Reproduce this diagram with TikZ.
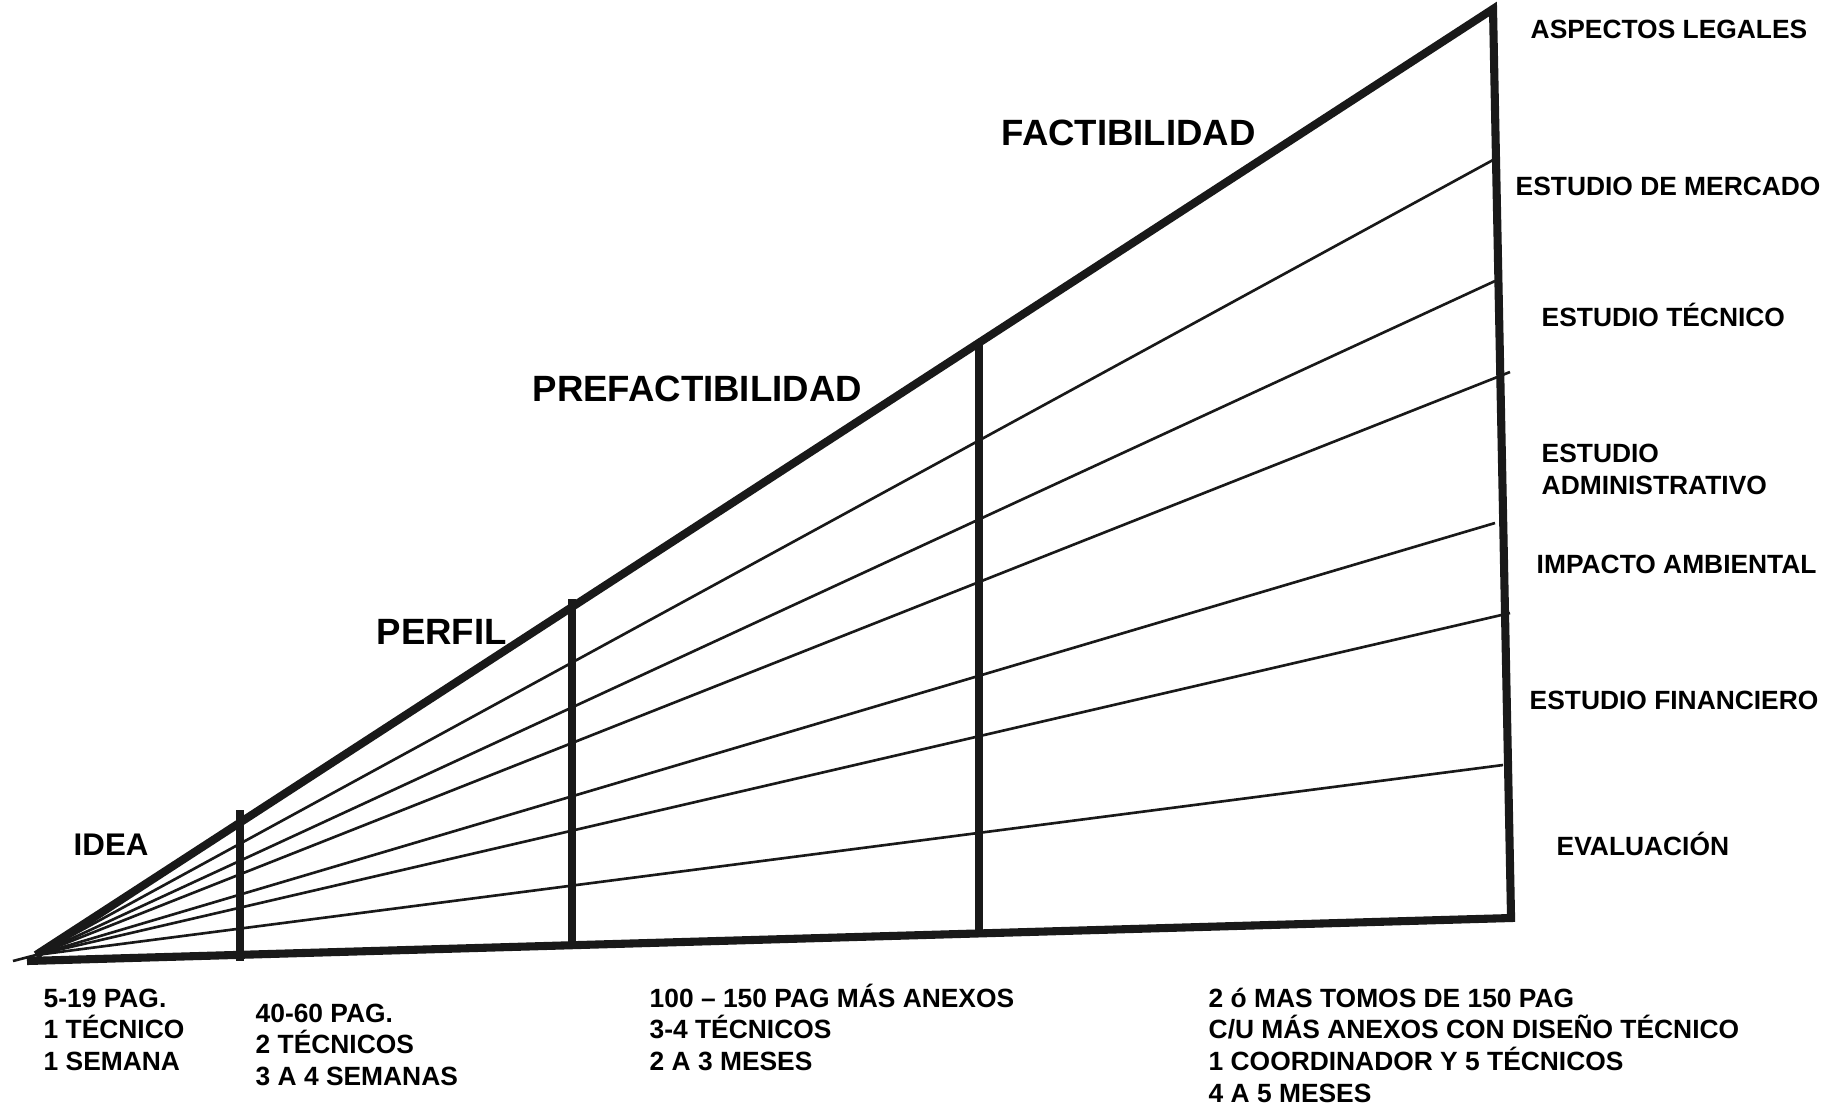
\documentclass[tikz,border=0pt]{standalone}
\usepackage{fontspec}
\setmainfont{Liberation Sans}
\newcommand\myfirstline{\rule{0pt}{1em}}
\begin{document}
\begin{tikzpicture}[x=0.01cm,y=-0.01cm,
  outline/.style={line width=2.3pt, draw=black!90, line join=miter},
  barline/.style={line width=2.5pt, draw=black!90},
  rayline/.style={line width=0.75pt, draw=black!90},
  small/.style={font=\bfseries\fontsize{7.5}{9}\selectfont, inner sep=0pt, align=left},
  big/.style={font=\bfseries\fontsize{10.4}{12.5}\selectfont, inner sep=0pt}]
\useasboundingbox (0,0) rectangle (1843,1106);

% main outline
\coordinate (A) at (36,955);
\coordinate (BL) at (27,961);
\coordinate (TR) at (1493,9);
\coordinate (BR) at (1511,916);
\coordinate (BRb) at (1511,918);
\coordinate (t1) at (13,961);

% ray end points on the right
\coordinate (r1) at (1493,160);
\coordinate (r2) at (1495,281);
\coordinate (r3) at (1510,372);
\coordinate (r4) at (1495,523);
\coordinate (r5) at (1510,613);
\coordinate (r6) at (1503,765);

\foreach \r in {r1,r2,r3,r4,r5,r6} \draw[rayline] (A) -- (\r);
\draw[rayline] (t1) -- (A);

\draw[outline] (A) -- (TR) -- (BR) -- (BRb) -- (BL);

% stage bars
\coordinate (b1t) at (240,810); \coordinate (b1b) at (240,961);
\coordinate (b2t) at (572,599); \coordinate (b2b) at (572,944);
\coordinate (b3t) at (979,341); \coordinate (b3b) at (979,932);
\draw[barline] (b1t) -- (b1b);
\draw[barline] (b2t) -- (b2b);
\draw[barline] (b3t) -- (b3b);

% stage labels
\node[big, font=\bfseries\fontsize{8.9}{11}\selectfont, anchor=base west] (idea) at (73,855) {IDEA};
\node[big, anchor=base west] (perfil) at (376,644) {PERFIL};
\node[big, anchor=base west] (prefact) at (532,401) {PREFACTIBILIDAD};
\node[big, anchor=base west] (fact) at (1001,145) {FACTIBILIDAD};

% right labels
\node[small, anchor=base west] (legal) at (1530,38) {ASPECTOS LEGALES};
\node[small, anchor=base west] (merc) at (1515,195.5) {ESTUDIO DE MERCADO};
\node[small, anchor=base west] (tec) at (1541,326) {ESTUDIO TÉCNICO};
\node[small, anchor=north west] (adm) at (1541,435.6) {\myfirstline ESTUDIO\\ADMINISTRATIVO};
\node[small, anchor=base west] (amb) at (1536,573.5) {IMPACTO AMBIENTAL};
\node[small, anchor=base west] (fin) at (1529,709) {ESTUDIO FINANCIERO};
\node[small, anchor=base west] (eval) at (1556,855) {EVALUACIÓN};

% bottom descriptions
\node[small, anchor=north west] (d1) at (43,980) {\myfirstline 5-19 PAG.\\1 TÉCNICO\\1 SEMANA};
\node[small, anchor=north west] (d2) at (255,995) {\myfirstline 40-60 PAG.\\2 TÉCNICOS\\3 A 4 SEMANAS};
\node[small, anchor=north west] (d3) at (649,980) {\myfirstline 100 – 150 PAG MÁS ANEXOS\\3-4 TÉCNICOS\\2 A 3 MESES};
\node[small, anchor=north west] (d4) at (1208,980) {\myfirstline 2 ó MAS TOMOS DE 150 PAG\\C/U MÁS ANEXOS CON DISEÑO TÉCNICO\\1 COORDINADOR Y 5 TÉCNICOS\\4 A 5 MESES};
\end{tikzpicture}
\end{document}
